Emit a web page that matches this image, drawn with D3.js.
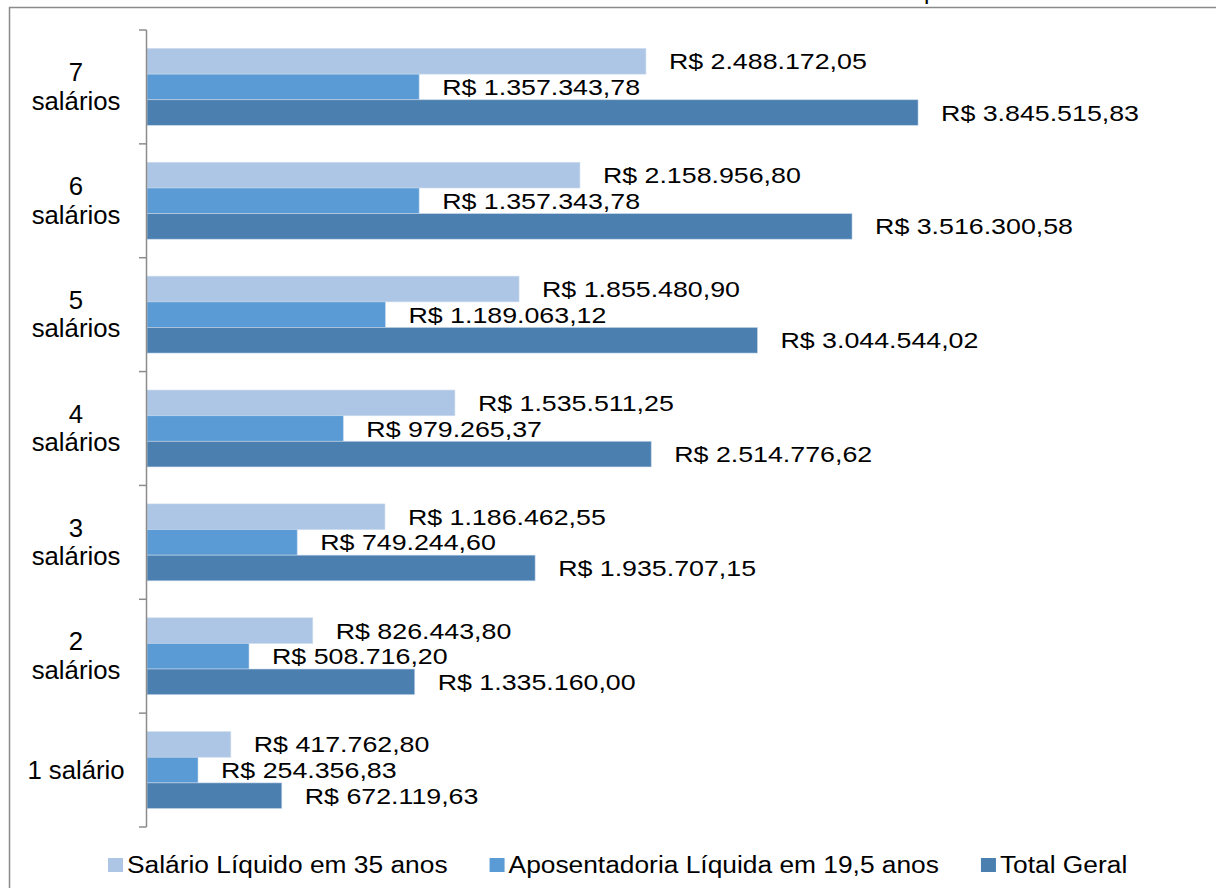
<!DOCTYPE html>
<html>
<head>
<meta charset="utf-8">
<script src="https://cdn.jsdelivr.net/npm/d3@7"></script>
<style>
  html, body { margin: 0; padding: 0; background: #fff; }
  svg { display: block; font-family: "Liberation Sans", Arial, sans-serif; }
</style>
</head>
<body>
<svg id="chart" width="1216" height="888"></svg>
<script>
// Categories, top to bottom (each label may break into two lines)
const categories = ["7 salários", "6 salários", "5 salários", "4 salários", "3 salários", "2 salários", "1 salário"];
const categoryLines = [["7", "salários"], ["6", "salários"], ["5", "salários"], ["4", "salários"], ["3", "salários"], ["2", "salários"], ["1 salário"]];

// Series names (legend order)
const seriesNames = ["Salário Líquido em 35 anos", "Aposentadoria Líquida em 19,5 anos", "Total Geral"];

// Values per category, same order as categories
const salarioLiquido = [2488172.05, 2158956.80, 1855480.90, 1535511.25, 1186462.55, 826443.80, 417762.80];
const aposentadoriaLiquida = [1357343.78, 1357343.78, 1189063.12, 979265.37, 749244.60, 508716.20, 254356.83];
const totalGeral = [3845515.83, 3516300.58, 3044544.02, 2514776.62, 1935707.15, 1335160.00, 672119.63];

const seriesValues = [salarioLiquido, aposentadoriaLiquida, totalGeral];
const colors = ["#adc6e5", "#5a9bd5", "#4a7fb0"];

const svg = d3.select("#chart");

// Brazilian currency formatting
const ptBR = d3.formatLocale({ decimal: ",", thousands: ".", grouping: [3], currency: ["R$ ", ""] });
const fmt = ptBR.format("$,.2f");

// Outer frame
svg.append("rect")
  .attr("x", 9.5).attr("y", 7.5)
  .attr("width", 1230).attr("height", 900)
  .attr("fill", "none").attr("stroke", "#8a8a8a").attr("stroke-width", 1.5);

// Title fragment above the frame
svg.append("text")
  .attr("x", 924).attr("y", -1)
  .attr("font-size", 24).attr("fill", "#000")
  .text("p");

const plotTop = 30, plotBottom = 827, axisX = 146.5;

const y = d3.scaleBand()
  .domain(categories)
  .range([plotTop, plotBottom])
  .paddingInner(0.325)
  .paddingOuter(0.1625);

const ySeries = d3.scaleBand()
  .domain(seriesNames)
  .range([0, y.bandwidth()]);

const x = d3.scaleLinear()
  .domain([0, 4500000])
  .range([147, 1049.3]);

// Flattened bar records
const bars = [];
categories.forEach((c, i) => {
  seriesNames.forEach((s, j) => {
    bars.push({ cat: c, series: s, value: seriesValues[j][i], color: colors[j] });
  });
});

svg.append("g").selectAll("rect")
  .data(bars)
  .join("rect")
  .attr("x", x(0))
  .attr("y", d => y(d.cat) + ySeries(d.series))
  .attr("width", d => x(d.value) - x(0))
  .attr("height", ySeries.bandwidth())
  .attr("fill", d => d.color)
  .attr("stroke", "#c9d8ec")
  .attr("stroke-opacity", 0.7)
  .attr("stroke-width", 0.8);

// Value labels (outside end)
const labelScaleX = 1.19;
svg.append("g").selectAll("text")
  .data(bars)
  .join("text")
  .attr("transform", d => `translate(${x(d.value) + 23},${y(d.cat) + ySeries(d.series) + ySeries.bandwidth() / 2 + 8}) scale(${labelScaleX},1)`)
  .attr("font-size", 22.5)
  .attr("fill", "#000")
  .text(d => fmt(d.value));

// Category axis
const axisG = svg.append("g");
axisG.append("line")
  .attr("x1", axisX).attr("x2", axisX)
  .attr("y1", plotTop).attr("y2", plotBottom)
  .attr("stroke", "#8c8c8c").attr("stroke-width", 1.5);

const step = y.step();
axisG.selectAll("line.tick")
  .data(d3.range(categories.length + 1))
  .join("line")
  .attr("class", "tick")
  .attr("x1", 139).attr("x2", axisX)
  .attr("y1", i => plotTop + i * step)
  .attr("y2", i => plotTop + i * step)
  .attr("stroke", "#8c8c8c").attr("stroke-width", 1.5);

// Category labels
const lineH = 28.5;
categories.forEach((c, i) => {
  const lines = categoryLines[i];
  const cy = y(c) + y.bandwidth() / 2;
  const first = cy - (lines.length - 1) * lineH / 2 + 8.5;
  lines.forEach((ln, k) => {
    svg.append("text")
      .attr("transform", `translate(76,${first + k * lineH}) scale(1.03,1)`)
      .attr("text-anchor", "middle")
      .attr("font-size", 25)
      .attr("fill", "#000")
      .text(ln);
  });
});

// Legend
const legendScaleX = 1.145;
const legendBaseline = 873;
let lx = 108;
seriesNames.forEach((s, j) => {
  svg.append("rect")
    .attr("x", lx).attr("y", 858)
    .attr("width", 15).attr("height", 14)
    .attr("fill", colors[j]);
  const t = svg.append("text")
    .attr("transform", `translate(${lx + 19},${legendBaseline}) scale(${legendScaleX},1)`)
    .attr("font-size", 23)
    .attr("fill", "#000")
    .text(s);
  const w = t.node().getComputedTextLength() * legendScaleX;
  lx = lx + 19 + w + 42;
});
</script>
</body>
</html>
